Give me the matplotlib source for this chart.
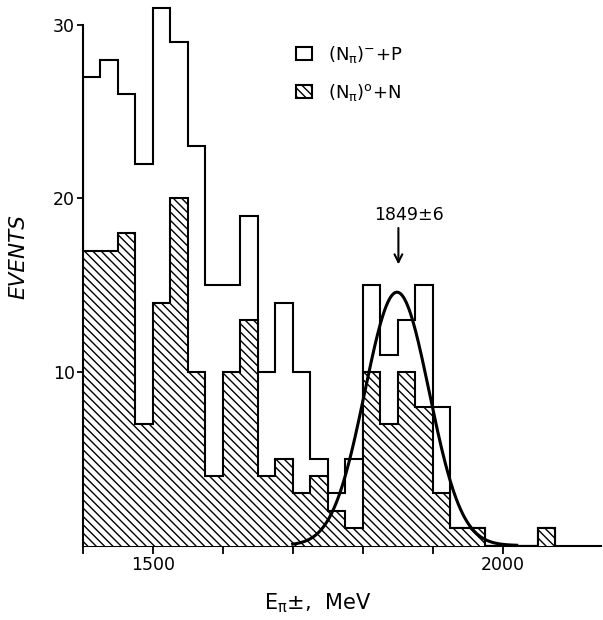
import matplotlib.pyplot as plt
import numpy as np
from matplotlib.patches import Patch

plt.rcParams['font.family'] = 'DejaVu Sans'
plt.rcParams['mathtext.default'] = 'regular'
plt.rcParams['hatch.linewidth'] = 1.0

# bins of 25 MeV from 1400 MeV
bin_edges = list(range(1400, 2076, 25))
charged_p = [27, 28, 26, 22, 31, 29, 23, 15, 15, 19, 10, 14, 10, 5, 3, 5,
             15, 11, 13, 15, 8, 1, 1, 0, 0, 0, 1]  # (N pi)- + P
neutral_n = [17, 17, 18, 7, 14, 20, 10, 4, 10, 13, 4, 5, 3, 4, 2, 1,
             10, 7, 10, 8, 3, 1, 1, 0, 0, 0, 1]  # (N pi)0 + N

# fitted peak
fit_mass = 1849
fit_err = 6
fit_peak = 14.6
fit_sigma = 46

fig = plt.figure(figsize=(6.03, 6.2), dpi=100)
ax = fig.add_axes([82.7 / 603, 74.5 / 620, 518 / 603, 544.8 / 620])

ax.stairs(charged_p, bin_edges, color='black', lw=1.5, zorder=2)
ax.stairs(neutral_n, bin_edges, fill=True, facecolor='white', edgecolor='black',
          hatch='\\\\\\\\', lw=1.5, zorder=3)

e = np.linspace(1700, 2020, 400)
ax.plot(e, fit_peak * np.exp(-0.5 * ((e - fit_mass) / fit_sigma) ** 2),
        color='black', lw=2.2, zorder=4)

ax.text(fit_mass + 17, 19.05, f'{fit_mass}±{fit_err}', ha='center', va='center', fontsize=12.5)
ax.annotate('', xy=(fit_mass + 2, 16.2), xytext=(fit_mass + 2, 18.3),
            arrowprops=dict(arrowstyle='->', color='black', lw=1.5,
                            mutation_scale=14, shrinkA=0, shrinkB=0))

ax.set_xlim(1400, 2140)
ax.set_ylim(0, 31.4)
ax.set_xticks(range(1400, 2001, 100))
ax.set_xticklabels(['', '1500', '', '', '', '', '2000'])
ax.set_yticks([10, 20, 30])
ax.tick_params(axis='x', direction='out', length=5.5, width=1.3, labelsize=12.5, pad=2)
ax.tick_params(axis='y', direction='out', length=4.5, width=1.3, labelsize=12.5, pad=1)
for s in ['top', 'right']:
    ax.spines[s].set_visible(False)
ax.spines['left'].set_bounds(0, 30)
ax.spines['left'].set_linewidth(1.5)
ax.spines['bottom'].set_linewidth(1.5)

ax.set_xlabel('E$_{\\pi}$±,  MeV', fontsize=15)
ax.xaxis.set_label_coords(0.454, -0.085)
fig.text(18.5 / 603, 1 - 256.5 / 620, 'EVENTS', rotation=90, ha='center', va='center',
         fontsize=15.5, style='italic')

handles = [Patch(facecolor='white', edgecolor='black', lw=1.5),
           Patch(facecolor='white', edgecolor='black', lw=1.5, hatch='\\\\\\\\')]
labels = ['$(N_{\\pi})^{-}{+}P$', '$(N_{\\pi})^{o}{+}N$']
ax.legend(handles, labels, loc='upper left', bbox_to_anchor=(0.411, 0.921),
          frameon=False, fontsize=13, handlelength=0.9, handleheight=0.78,
          handletextpad=0.9, labelspacing=0.95, borderpad=0, borderaxespad=0)

plt.savefig('out.png')
